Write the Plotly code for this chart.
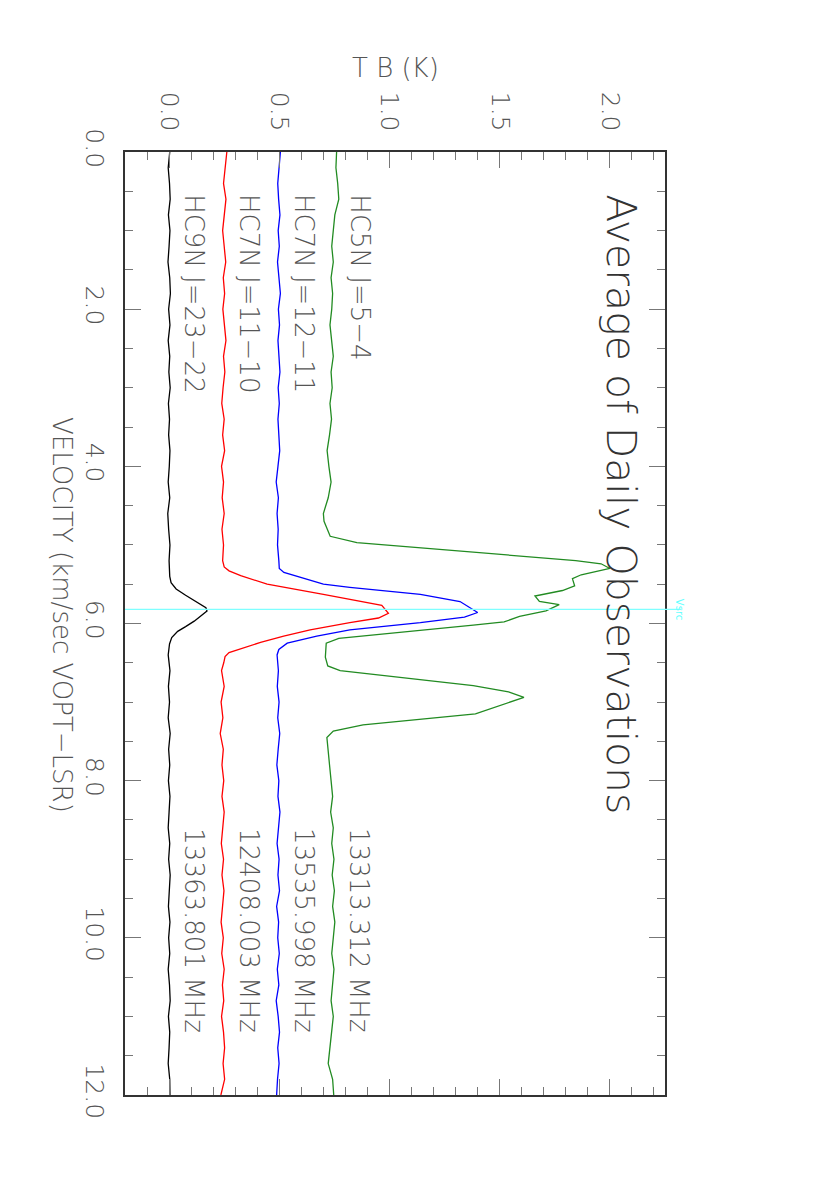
import plotly.graph_objects as go

# HC9N J=23-22 (black), offset 0.0
hc9n_vel = [0.0, 0.2, 0.4, 0.6, 0.8, 1.0, 1.2, 1.4, 1.6, 1.8, 2.0, 2.2, 2.4, 2.6, 2.8, 3.0,
            3.2, 3.4, 3.6, 3.8, 4.0, 4.2, 4.4, 4.6, 4.8, 5.0, 5.2, 5.4, 5.48, 5.56, 5.64,
            5.71, 5.76, 5.80, 5.84, 5.90, 5.97, 6.04, 6.10, 6.18, 6.26, 6.4, 6.6, 6.8, 7.0,
            7.2, 7.4, 7.6, 7.8, 8.0, 8.2, 8.4, 8.6, 8.8, 9.0, 9.2, 9.4, 9.6, 9.8, 10.0,
            10.2, 10.4, 10.6, 10.8, 11.0, 11.2, 11.4, 11.6, 11.8, 12.0]
hc9n_tb = [0.003, -0.004, 0.002, 0.005, -0.003, 0.004, 0.000, -0.005, 0.003, 0.006, -0.002,
           0.004, -0.004, 0.003, -0.001, 0.005, -0.003, 0.002, -0.002, 0.004, 0.001, -0.004,
           0.003, -0.006, -0.002, 0.004, 0.000, 0.003, 0.009, 0.032, 0.075, 0.114, 0.140,
           0.167, 0.172, 0.145, 0.114, 0.075, 0.039, 0.012, 0.002, -0.004, 0.004, -0.003,
           0.002, -0.004, 0.005, -0.002, 0.003, -0.003, 0.004, 0.000, -0.004, 0.003, -0.002,
           0.005, 0.001, -0.003, 0.004, -0.002, 0.003, -0.004, 0.002, 0.005, -0.003, 0.003,
           0.000, -0.004, 0.003, 0.004]

# HC7N J=11-10 (red), offset 0.25
hc7n_1110_vel = [0.0, 0.2, 0.4, 0.6, 0.8, 1.0, 1.2, 1.4, 1.6, 1.8, 2.0, 2.2, 2.4, 2.6, 2.8,
                 3.0, 3.2, 3.4, 3.6, 3.8, 4.0, 4.2, 4.4, 4.6, 4.8, 5.0, 5.2, 5.28, 5.33, 5.39,
                 5.50, 5.63, 5.72, 5.77, 5.87, 5.93, 5.99, 6.08, 6.16, 6.24, 6.37, 6.42, 6.5,
                 6.6, 6.8, 7.0, 7.2, 7.4, 7.6, 7.8, 8.0, 8.2, 8.4, 8.6, 8.8, 9.0, 9.2, 9.4,
                 9.6, 9.8, 10.0, 10.2, 10.4, 10.6, 10.8, 11.0, 11.2, 11.4, 11.6, 11.8, 12.0]
hc7n_1110_tb = [0.262, 0.255, 0.247, 0.258, 0.252, 0.243, 0.250, 0.257, 0.246, 0.252, 0.244,
                0.251, 0.258, 0.247, 0.253, 0.245, 0.239, 0.250, 0.243, 0.252, 0.238, 0.247,
                0.241, 0.250, 0.240, 0.247, 0.243, 0.250, 0.272, 0.325, 0.445, 0.700, 0.880,
                0.965, 0.995, 0.950, 0.820, 0.640, 0.520, 0.415, 0.272, 0.254, 0.248, 0.238,
                0.250, 0.236, 0.244, 0.232, 0.246, 0.240, 0.248, 0.240, 0.250, 0.243, 0.237,
                0.247, 0.240, 0.249, 0.242, 0.236, 0.246, 0.239, 0.250, 0.242, 0.248, 0.238,
                0.247, 0.252, 0.245, 0.252, 0.235]

# HC7N J=12-11 (blue), offset 0.5
hc7n_1211_vel = [0.0, 0.2, 0.4, 0.6, 0.8, 1.0, 1.2, 1.4, 1.6, 1.8, 2.0, 2.2, 2.4, 2.6, 2.8,
                 3.0, 3.2, 3.4, 3.6, 3.8, 4.0, 4.2, 4.4, 4.6, 4.8, 5.0, 5.2, 5.30, 5.35, 5.39,
                 5.50, 5.54, 5.63, 5.72, 5.86, 5.92, 5.99, 6.08, 6.16, 6.25, 6.33, 6.4, 6.6,
                 6.8, 7.0, 7.2, 7.4, 7.6, 7.8, 8.0, 8.2, 8.4, 8.6, 8.8, 9.0, 9.2, 9.4, 9.6,
                 9.8, 10.0, 10.2, 10.4, 10.6, 10.8, 11.0, 11.2, 11.4, 11.6, 11.8, 12.0]
hc7n_1211_tb = [0.505, 0.500, 0.493, 0.497, 0.503, 0.495, 0.500, 0.492, 0.498, 0.505, 0.496,
                0.501, 0.494, 0.499, 0.503, 0.495, 0.500, 0.494, 0.498, 0.502, 0.494, 0.486,
                0.496, 0.490, 0.495, 0.492, 0.498, 0.500, 0.521, 0.566, 0.700, 0.820, 1.140,
                1.320, 1.400, 1.340, 1.140, 0.820, 0.670, 0.536, 0.498, 0.490, 0.496, 0.491,
                0.499, 0.493, 0.502, 0.495, 0.489, 0.498, 0.494, 0.503, 0.496, 0.490, 0.499,
                0.494, 0.501, 0.488, 0.497, 0.493, 0.500, 0.491, 0.498, 0.486, 0.495, 0.501,
                0.493, 0.499, 0.492, 0.488]

# HC5N J=5-4 (green), offset 0.75
hc5n_vel = [0.0, 0.2, 0.4, 0.6, 0.8, 1.0, 1.2, 1.4, 1.6, 1.8, 2.0, 2.2, 2.4, 2.6, 2.8, 3.0,
            3.2, 3.4, 3.6, 3.8, 4.0, 4.2, 4.4, 4.6, 4.7, 4.8, 4.89, 4.97, 5.20, 5.24, 5.30,
            5.38, 5.43, 5.52, 5.58, 5.65, 5.72, 5.76, 5.84, 5.91, 5.98, 6.02, 6.19, 6.25,
            6.43, 6.54, 6.60, 6.79, 6.87, 6.94, 7.15, 7.29, 7.37, 7.45, 7.6, 7.8, 8.0, 8.2,
            8.4, 8.6, 8.8, 9.0, 9.2, 9.4, 9.6, 9.8, 10.0, 10.2, 10.4, 10.6, 10.8, 11.0,
            11.2, 11.4, 11.6, 11.8, 12.0]
hc5n_tb = [0.760, 0.757, 0.765, 0.770, 0.752, 0.745, 0.738, 0.745, 0.735, 0.742, 0.738,
           0.730, 0.738, 0.745, 0.735, 0.740, 0.730, 0.737, 0.728, 0.717, 0.725, 0.735,
           0.722, 0.700, 0.703, 0.718, 0.731, 0.852, 1.845, 1.960, 2.000, 1.870, 1.830,
           1.840, 1.785, 1.660, 1.680, 1.770, 1.710, 1.590, 1.520, 1.380, 0.770, 0.713,
           0.709, 0.720, 0.776, 1.380, 1.540, 1.610, 1.390, 0.880, 0.745, 0.716, 0.720,
           0.728, 0.735, 0.742, 0.733, 0.745, 0.738, 0.748, 0.740, 0.750, 0.742, 0.752,
           0.745, 0.738, 0.748, 0.742, 0.735, 0.745, 0.738, 0.730, 0.722, 0.742, 0.747]

species = ["HC9N J=23\u221222", "HC7N J=11\u221210", "HC7N J=12\u221211", "HC5N J=5\u22124"]
freqs = ["13363.801 MHz", "12408.003 MHz", "13535.998 MHz", "13313.312 MHz"]
offsets = [0.0, 0.25, 0.5, 0.75]
colors = ["#000000", "#ff0000", "#0000ff", "#228b22"]

v_src = 5.82
tb_ticks = [0.0, 0.5, 1.0, 1.5, 2.0]
vel_ticks = [0.0, 2.0, 4.0, 6.0, 8.0, 10.0, 12.0]

FONT = "DejaVu Sans"
TXT = "#555555"

# frame position on the page (the page body adds an 8px margin)
FX0, FX1, FY0, FY1 = 125, 665, 152, 1095
PAD = 8


def px(xs):
    return (xs - FX0) / (FX1 - FX0)


def py(ys):
    return 1 - (ys - FY0) / (FY1 - FY0)


fig = go.Figure()

spectra = [(hc9n_vel, hc9n_tb), (hc7n_1110_vel, hc7n_1110_tb),
           (hc7n_1211_vel, hc7n_1211_tb), (hc5n_vel, hc5n_tb)]
for (vel, tb), c in zip(spectra, colors):
    fig.add_trace(go.Scatter(x=tb, y=vel, mode="lines",
                             line=dict(color=c, width=1.3), showlegend=False))

# Vsrc marker line
fig.add_shape(type="line", xref="paper", yref="y", x0=0, x1=px(681), y0=v_src, y1=v_src,
              line=dict(color="#7fffff", width=1.2))
fig.add_annotation(xref="paper", yref="y", x=px(687), y=v_src, text="Vsrc", showarrow=False,
                   textangle=90, font=dict(family=FONT, size=10, color="#66ffff"))

# species / frequency labels
for name, f, off in zip(species, freqs, offsets):
    fig.add_annotation(x=off + 0.115, y=0.51, text=name, showarrow=False, textangle=90,
                       xanchor="center", yanchor="top",
                       font=dict(family=FONT, size=26, color=TXT, weight=200))
    fig.add_annotation(x=off + 0.115, y=8.58, text=f, showarrow=False, textangle=90,
                       xanchor="center", yanchor="top",
                       font=dict(family=FONT, size=26, color=TXT, weight=200))

fig.add_annotation(x=2.05, y=4.48, text="Average of Daily Observations", showarrow=False,
                   textangle=90, xanchor="center", yanchor="middle",
                   font=dict(family=FONT, size=41, color="#333333", weight=200))

fig.add_annotation(xref="paper", yref="paper", x=px(395), y=py(68),
                   text="T B (K)", showarrow=False, xanchor="center", yanchor="middle",
                   font=dict(family=FONT, size=26, color=TXT, weight=200))
fig.add_annotation(xref="paper", yref="paper", x=px(62), y=py(615),
                   text="VELOCITY (km/sec VOPT\u2212LSR)", showarrow=False, textangle=90,
                   xanchor="center", yanchor="middle",
                   font=dict(family=FONT, size=26, color=TXT, weight=200))

axis_common = dict(showline=True, linecolor="#333333", linewidth=1.5, mirror="allticks",
                   ticks="inside", ticklen=16, tickcolor="#777777", tickwidth=1.2,
                   showgrid=False, zeroline=False, tickangle=90,
                   tickfont=dict(family=FONT, size=25, color=TXT, weight=200))

fig.update_xaxes(range=[-0.2, 2.25], side="top", tickvals=tb_ticks,
                 ticktext=[f"{t:.1f}" for t in tb_ticks], ticklabelstandoff=10,
                 minor=dict(dtick=0.1, ticks="inside", ticklen=8, tickcolor="#777777",
                            tickwidth=1.2, showgrid=False),
                 **axis_common)
fig.update_yaxes(range=[12, 0], tickvals=vel_ticks,
                 ticktext=[f"{t:.1f}" for t in vel_ticks], ticklabelstandoff=7,
                 minor=dict(dtick=0.5, ticks="inside", ticklen=8, tickcolor="#777777",
                            tickwidth=1.2, showgrid=False),
                 **axis_common)

fig.update_layout(width=830, height=1179, paper_bgcolor="white", plot_bgcolor="white",
                  margin=dict(l=FX0 - PAD, r=830 - FX1 + PAD, t=FY0 - PAD,
                              b=1179 - FY1 + PAD),
                  showlegend=False)

fig.write_html("out.html")
